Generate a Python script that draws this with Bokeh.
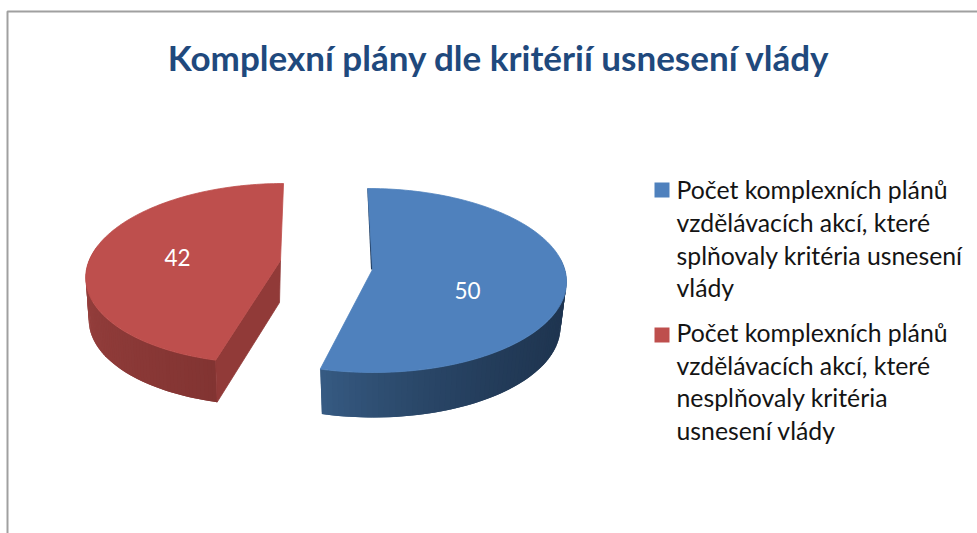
import numpy as np
from bokeh.plotting import figure
from bokeh.models import Range1d
from bokeh.core.properties import value
from bokeh.embed import file_html
from bokeh.resources import INLINE

title = "Komplexní plány dle kritérií usnesení vlády"
values = [50, 42]
colors = ["#4F81BD", "#BE4F4D"]
legend_lines = [
    ["Počet komplexních plánů", "vzdělávacích akcí, které", "splňovaly kritéria usnesení", "vlády"],
    ["Počet komplexních plánů", "vzdělávacích akcí, které", "nesplňovaly kritéria", "usnesení vlády"],
]

W, H = 977, 533
X0, Y0 = 0, 0
p = figure(width=W, height=H, output_backend="svg", toolbar_location=None,
           x_range=Range1d(X0, X0 + W), y_range=Range1d(Y0 + H, Y0),
           min_border=0, outline_line_color=None, background_fill_color="white",
           border_fill_color="white")
p.axis.visible = False
p.grid.visible = False

split = 2 * np.pi * values[0] / sum(values)


def ell(theta, cx, cy, rx, ry, s):
    dy = -np.cos(theta) * ry
    return cx + rx * np.sin(theta) + s * dy, cy + dy


def mix(a, b, t):
    c = [round(a[i] + (b[i] - a[i]) * t) for i in range(3)]
    return "#%02x%02x%02x" % tuple(c)


def wall(t0, t1, top, bot, c0, c1, gamma=1.0, n=70):
    ts = np.linspace(t0, t1, n + 1)
    xs, ys, cs = [], [], []
    for i in range(n):
        a, b = ts[i], ts[min(i + 2, n)]
        xa, ya = ell(a, *top); xb, yb = ell(b, *top)
        xc, yc = ell(b, *bot); xd, yd = ell(a, *bot)
        xs.append([xa, xb, xc, xd]); ys.append([ya, yb, yc, yd])
        cs.append(mix(c0, c1, (i / (n - 1)) ** gamma))
    p.patches(xs, ys, fill_color=cs, line_color=None)


def face(t0, t1, top, apex, color):
    ts = np.linspace(t0, t1, 160)
    x, y = ell(ts, *top)
    p.patch(list(x) + [apex[0]], list(y) + [apex[1]], fill_color=color, line_color=color, line_width=0.8)


# blue slice
b_top = (370, 280, 196, 92, 0.03)
b_bot = (370, 325, 190, 92, 0.03)
b_apex = (372, 269)
wall(np.pi * 0.42, split, b_top, b_bot, (30, 52, 79), (54, 90, 130), gamma=2.5)
sx, sy = ell(0.0, *b_top)
p.patch([sx - 0.5, b_apex[0] - 1.5, b_apex[0] + 0.5, sx + 0.5],
        [sy, b_apex[1], b_apex[1], sy], fill_color="#1F3A5C", line_color=None)
face(0.0, split, b_top, b_apex, colors[0])

# red slice
r_top = (274.4, 273, 189, 90, -0.096)
r_bot = (275.4, 315, 187, 90, -0.096)
r_apex = (280, 260)
wall(1.6 * np.pi, split, r_top, r_bot, (155, 66, 64), (130, 52, 50))
ex, ey = ell(split, *r_top)
fx, fy = ell(split, *r_bot)
p.patch([ex, r_apex[0], r_apex[0] - 1, fx], [ey, r_apex[1], r_apex[1] + 42, fy],
        fill_color="#913A38", line_color="#913A38", line_width=0.8)
face(split, 2 * np.pi, r_top, r_apex, colors[1])

# data labels
p.text([467, 177], [290, 257], text=[str(v) for v in values], text_color="white",
       text_font=value("Lato"), text_font_size="22.5px", text_align="center", text_baseline="middle")

# title
p.text([498.5], [56], text=[title], text_color="#1F497D", text_font=value("Lato"),
       text_font_style="bold", text_font_size="35px", text_align="center", text_baseline="middle")

# legend
swatch_y = [189.5, 334.5]
line_y = [[189, 222, 255, 287], [332, 365, 397, 430]]
for c, sy_, lines, ys_ in zip(colors, swatch_y, legend_lines, line_y):
    p.rect([661.5], [sy_], width=15, height=15, fill_color=c, line_color=None)
    p.text([676] * 4, ys_, text=lines, text_color="#141414", text_font=value("Lato"),
           text_font_size="24.8px", text_align="left", text_baseline="middle")

# chart frame
p.line([7, 7, X0 + W], [Y0 + H, 11, 11], line_color="#a0a0a0", line_width=2)

open("out.html", "w").write(file_html(p, INLINE))
